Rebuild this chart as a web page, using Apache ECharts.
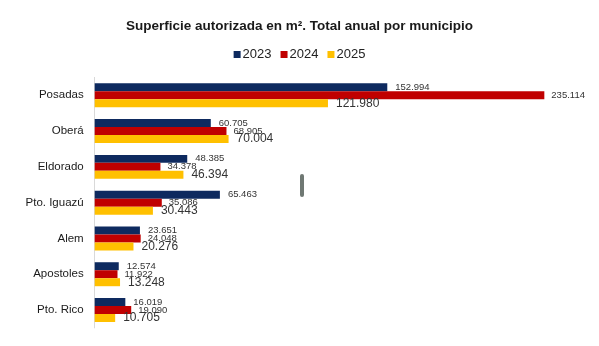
<!DOCTYPE html>
<html><head><meta charset="utf-8">
<script src="https://cdn.jsdelivr.net/npm/echarts@6/dist/echarts.min.js"></script>
<style>html,body{margin:0;padding:0;background:#fff}#c{width:599px;height:346px}</style>
</head><body><div id="c"></div>
<script>
const categories = ['Posadas','Oberá','Eldorado','Pto. Iguazú','Alem','Apostoles','Pto. Rico'];
const seriesNames = ['2023','2024','2025'];
const values2023 = [152994, 60705, 48385, 65463, 23651, 12574, 16019];
const values2024 = [235114, 68905, 34378, 35086, 24048, 11922, 19090];
const values2025 = [121980, 70004, 46394, 30443, 20276, 13248, 10705];
const colors = ['#0E2A5F','#C00000','#FFC000'];

const fmt = v => String(v).replace(/\B(?=(\d{3})+(?!\d))/g, '.');
const chart = echarts.init(document.getElementById('c'), null, {renderer:'canvas'});
const mk = (name, data, color, fs, dist) => ({
  name, type:'bar', data, barGap:'0%', barCategoryGap:'33%',
  itemStyle:{color},
  label:{show:true, position:'right', distance:dist, fontSize:fs, color:'#333',
    fontFamily:'Liberation Sans, Arial, sans-serif', formatter:p=>fmt(p.value)}
});
chart.setOption({
  animation:false,
  title:{text:'Superficie autorizada en m². Total anual por municipio', left:'center', top:14,
    textStyle:{fontSize:13.5, fontWeight:'bold', color:'#1a1a1a', fontFamily:'Liberation Sans, Arial, sans-serif'}},
  legend:{data:seriesNames, top:43, left:'center', itemWidth:7, itemHeight:7, itemGap:9, icon:'rect',
    textStyle:{fontSize:13, color:'#222', fontFamily:'Liberation Sans, Arial, sans-serif', padding:[0,0,0,-3]}},
  grid:{left:94.7, right:26.2, top:77.4, height:250.5, containLabel:false},
  xAxis:{type:'value', min:0, max:250000, show:false, splitLine:{show:false}},
  yAxis:{type:'category', data:categories, inverse:true,
    axisLine:{show:true, lineStyle:{color:'#D9D9D9', width:1}}, axisTick:{show:false},
    axisLabel:{fontSize:11.5, color:'#1a1a1a', margin:11, fontFamily:'Liberation Sans, Arial, sans-serif'}},
  series:[
    mk('2023', values2023, colors[0], 9.5, 8),
    mk('2024', values2024, colors[1], 9.5, 7),
    mk('2025', values2025, colors[2], 12, 8)
  ],
  graphic:[{type:'rect', shape:{x:300, y:174, width:4, height:23, r:2}, style:{fill:'#6f7873'}}]
});
</script></body></html>
